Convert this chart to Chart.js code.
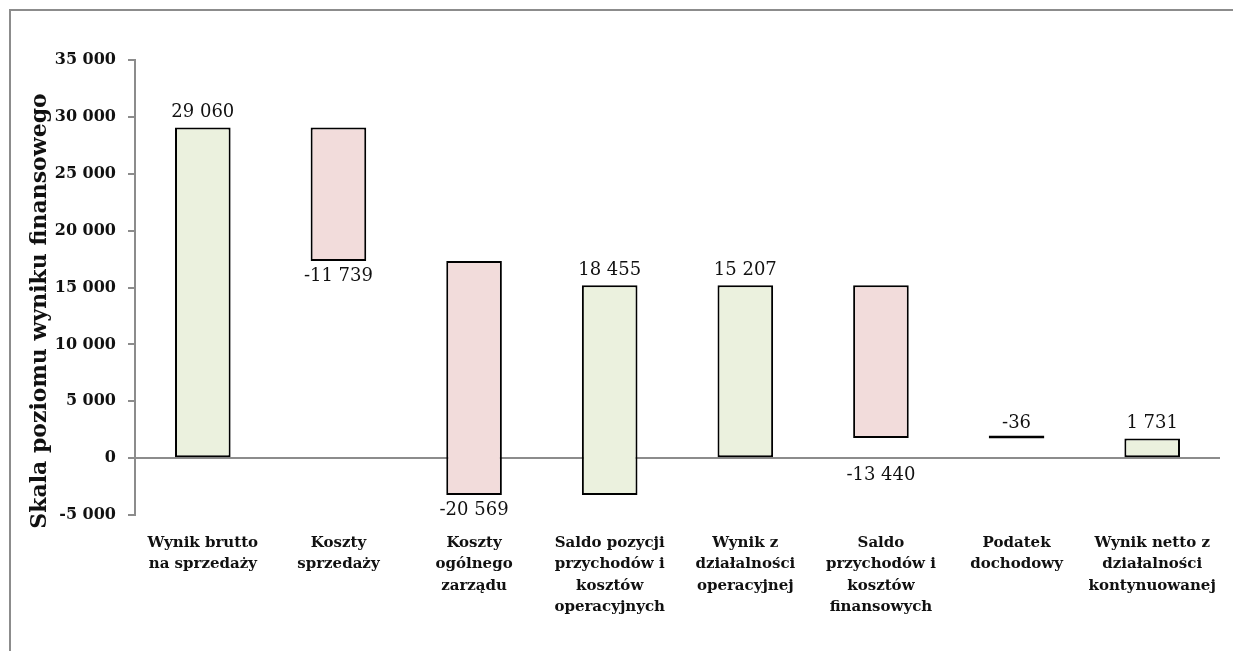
<!DOCTYPE html>
<html>
<head>
<meta charset="utf-8">
<script src="https://cdn.jsdelivr.net/npm/chart.js@4"></script>
<style>
  html, body { margin: 0; padding: 0; background: #fff; overflow: hidden; }
  #wrap { position: relative; width: 1233px; height: 651px; }
  #frame { position: absolute; left: 9px; top: 9px; width: 1300px; height: 700px; border: 2px solid #8c8c8c; box-sizing: border-box; }
  canvas { position: absolute; left: 0; top: 0; }
</style>
</head>
<body>
<div id="wrap">
  <div id="frame"></div>
  <canvas id="chart" width="1233" height="651"></canvas>
</div>
<script>
const categories = [
  ["Wynik brutto", "na sprzedaży"],
  ["Koszty", "sprzedaży"],
  ["Koszty", "ogólnego", "zarządu"],
  ["Saldo pozycji", "przychodów i", "kosztów", "operacyjnych"],
  ["Wynik z", "działalności", "operacyjnej"],
  ["Saldo", "przychodów i", "kosztów", "finansowych"],
  ["Podatek", "dochodowy"],
  ["Wynik netto z", "działalności", "kontynuowanej"]
];
const changes = [29060, -11739, -20569, 18455, 15207, -13440, -36, 1731];
const isTotal = [true, false, false, false, true, false, false, true];
const yTicks = [-5000, 0, 5000, 10000, 15000, 20000, 25000, 30000, 35000];
const yTitle = "Skala poziomu wyniku finansowego";

const GREEN = "#ebf1de";
const PINK = "#f2dcdb";

// floating bars [start, end] from running total
let running = 0;
const bars = changes.map((v, i) => {
  let seg;
  if (isTotal[i]) {
    seg = [0, v];
    running = v;
  } else {
    seg = [running, running + v];
    running += v;
  }
  return seg;
});
const colors = changes.map((v, i) => (isTotal[i] || v > 0) ? GREEN : PINK);

function fmt(n) {
  const s = Math.abs(n).toString().replace(/\B(?=(\d{3})+(?!\d))/g, " ");
  return (n < 0 ? "-" : "") + s;
}

const labelPlugin = {
  id: "valueLabels",
  afterDatasetsDraw(chart) {
    const c = chart.ctx;
    const meta = chart.getDatasetMeta(0);
    const y = chart.scales.y;
    const zero = y.getPixelForValue(0);
    c.save();
    c.font = "18px 'DejaVu Serif'";
    c.fillStyle = "#111";
    c.textAlign = "center";
    meta.data.forEach((bar, i) => {
      const [a, b] = bars[i];
      const top = y.getPixelForValue(Math.max(a, b));
      const bottom = y.getPixelForValue(Math.min(a, b));
      const below = changes[i] < 0 && (bottom - top) > 20;
      if (below) {
        let ty = bottom + 6;
        // keep clear of the zero line
        if (ty < zero + 4 && ty + 20 > zero - 4) ty = zero + 8;
        c.textBaseline = "top";
        c.fillText(fmt(changes[i]), bar.x, ty);
      } else {
        c.textBaseline = "bottom";
        c.fillText(fmt(changes[i]), bar.x, top - 6);
      }
    });

    // axis title, a bit lower than the plot centre like the original
    c.translate(40, 311);
    c.rotate(-Math.PI / 2);
    c.font = "bold 22px 'DejaVu Serif'";
    c.textBaseline = "middle";
    c.fillText(yTitle, 0, 0);
    c.restore();
  }
};

new Chart(document.getElementById("chart"), {
  type: "bar",
  data: {
    labels: categories,
    datasets: [{
      data: bars,
      backgroundColor: colors,
      borderColor: "#000",
      borderWidth: 2,
      borderSkipped: false,
      minBarLength: 3,
      barPercentage: 0.41,
      categoryPercentage: 1.0
    }]
  },
  options: {
    responsive: false,
    animation: false,
    layout: { padding: { top: 60, right: 13, left: 0, bottom: 0 } },
    plugins: {
      legend: { display: false },
      tooltip: { enabled: false }
    },
    scales: {
      x: {
        grid: { display: false },
        border: { display: false },
        ticks: {
          color: "#111",
          font: { family: "'DejaVu Serif'", size: 15, weight: "bold", lineHeight: 1.43 },
          maxRotation: 0,
          autoSkip: false,
          padding: 9
        },
        afterFit(s) { s.height = 136; }
      },
      y: {
        min: -5000,
        max: 35000,
        afterBuildTicks(s) { s.ticks = yTicks.map(v => ({ value: v })); },
        grid: {
          color: ctx => ctx.tick && ctx.tick.value === 0 ? "#8c8c8c" : "rgba(0,0,0,0)",
          tickColor: "#8c8c8c",
          tickLength: 7,
          lineWidth: 2
        },
        border: { display: true, color: "#8c8c8c", width: 2 },
        ticks: {
          color: "#111",
          font: { family: "'DejaVu Serif'", size: 16, weight: "bold" },
          padding: 12,
          callback: v => fmt(v)
        },
        afterFit(s) { s.width = 135; }
      }
    }
  },
  plugins: [labelPlugin]
});
</script>
</body>
</html>
